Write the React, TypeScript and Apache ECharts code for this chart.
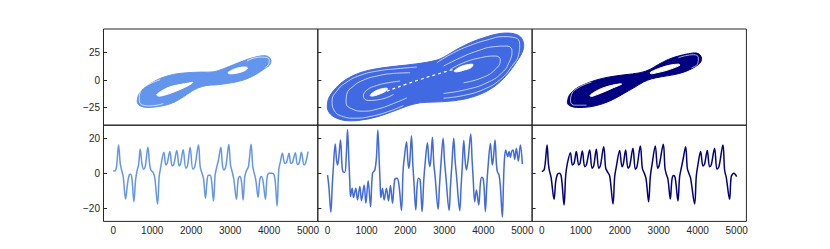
import { useEffect, useRef } from 'react';
import * as echarts from 'echarts';

const seriesColors = ['#6495ED', '#4169E1', '#000080'];

const phaseYTicks = [-25, 0, 25];
const timeYTicks = [-20, 0, 20];
const timeXTicks = [0, 1000, 2000, 3000, 4000, 5000];

// Phase portraits: outline of the attractor band and its two holes
const outer1 = [[-16.55,-17.7],[-16.25,-13.1],[-15.19,-7.9],[-13.69,-3.4],[-11.42,1.5],[-8.41,5.2],[-5.39,6.7],[-2.38,7.3],[0.64,7.6],[2.9,10.4],[4.41,12.8],[6.67,16.5],[8.93,19.8],[11.2,22.0],[12.7,22.0],[13.46,19.5],[13.61,16.5],[13.31,13.7],[11.95,9.8],[10.44,5.8],[8.18,1.2],[5.92,-1.5],[3.66,-3.1],[1.39,-4.3],[-0.87,-4.9],[-2.75,-7.0],[-4.26,-10.1],[-6.15,-15.3],[-8.03,-19.8],[-9.92,-22.6],[-12.18,-24.4],[-14.44,-25.0],[-15.95,-23.5],[-16.55,-20.7]];
const holeL1 = [[-12.18,-13.4],[-11.05,-9.8],[-9.16,-6.1],[-6.9,-4.0],[-5.01,-2.7],[-4.03,-2.1],[-5.01,-4.9],[-6.9,-8.5],[-8.78,-11.6],[-10.67,-14.0],[-11.8,-14.6]];
const holeR1 = [[3.88,6.7],[5.16,9.8],[6.67,11.6],[8.03,11.9],[8.33,10.7],[7.28,7.9],[5.54,6.1],[4.26,5.8]];
const gaps1 = [
  [[-11.42,0.3],[-14.44,-4.9],[-15.8,-10.1],[-16.1,-17.1],[-15.57,-22.3],[-13.69,-23.5],[-10.67,-21.4]],
  [[8.18,17.4],[11.2,21.0],[12.86,20.4],[13.23,16.5],[12.33,11.3]],
];

const outer2 = [[-22.04,-22.3],[-21.59,-15.3],[-20.08,-7.0],[-17.82,0.6],[-14.65,6.7],[-10.88,10.4],[-6.36,12.8],[-1.83,14.9],[2.69,18.3],[4.95,22.6],[7.22,28.1],[10.23,34.2],[13.25,38.7],[16.64,42.4],[19.66,42.7],[21.54,39.7],[22.3,32.6],[21.92,25.0],[20.79,17.4],[18.9,6.7],[16.26,-4.0],[13.25,-11.6],[9.48,-16.8],[5.71,-19.2],[1.94,-20.1],[-1.08,-20.7],[-4.1,-23.8],[-7.11,-28.4],[-10.88,-33.6],[-14.65,-36.6],[-18.04,-36.9],[-20.53,-33.6],[-21.82,-28.4]];
const holeL2 = [[-12.39,-14.0],[-11.26,-10.1],[-9.75,-7.9],[-8.47,-7.6],[-8.99,-10.4],[-10.5,-13.1],[-11.78,-14.6]];
const holeR2 = [[6.61,8.2],[7.97,12.2],[9.48,14.0],[10.84,14.3],[10.38,11.3],[8.87,9.2],[7.37,7.6]];
const gaps2 = [
  [[-1.83,11.9],[-6.36,10.4],[-10.88,8.2],[-14.65,4.3],[-17.66,-1.8],[-19.93,-10.1],[-20.98,-19.2],[-20.53,-27.5],[-18.79,-32.9],[-15.78,-34.8],[-12.01,-32.9],[-8.24,-28.7],[-4.85,-23.2]],
  [[-3.34,6.7],[-7.11,6.1],[-10.88,3.7],[-13.9,0],[-16.16,-5.5],[-17.66,-13.1],[-17.81,-20.7],[-16.53,-26.2],[-13.9,-28.4],[-10.5,-26.2],[-7.11,-21.4],[-4.09,-16.2]],
  [[-5.6,-0.9],[-8.24,-2.4],[-10.88,-4.9],[-13.14,-9.2],[-13.9,-14.6],[-12.77,-18.6],[-10.13,-17.7],[-7.11,-13.1]],
  [[2.69,15.9],[6.46,25.0],[10.23,31.7],[14.0,36.6],[17.77,39.7],[20.41,38.7],[21.39,32.6],[21.17,23.5],[19.66,12.8],[17.02,0.6],[13.25,-8.5],[8.73,-14.0],[4.2,-16.5]],
  [[4.2,12.8],[7.97,20.4],[11.74,26.5],[15.51,30.5],[18.52,31.1],[19.66,26.5],[19.13,17.4],[17.4,6.7],[14.0,-2.4],[9.48,-8.5],[4.2,-12.2]],
  [[5.71,9.8],[8.73,15.9],[12.5,20.4],[15.89,22.0],[17.02,18.3],[15.89,9.8],[12.87,2.1],[8.73,-2.4]],
];
const streak2 = [[-8.61,-10.1],[-1.08,0.6],[6.46,9.8]];

const outer3 = [[-16.2,-19.2],[-15.82,-14.0],[-14.54,-8.5],[-12.65,-4.3],[-10.01,-0.3],[-6.99,2.7],[-3.23,4.9],[0.17,6.7],[2.43,9.8],[4.32,14.3],[6.57,18.9],[8.84,22.0],[11.1,24.1],[12.98,24.7],[13.89,22.0],[14.04,18.0],[13.36,14.3],[11.85,10.4],[9.59,6.7],[7.33,4.6],[5.07,3.1],[2.8,1.2],[0.92,-1.8],[-0.97,-6.4],[-3.23,-11.6],[-5.49,-16.8],[-8.13,-21.4],[-11.15,-24.4],[-14.16,-25.0],[-15.67,-23.5],[-16.2,-21.4]];
const holeL3 = [[-11.13,-14.0],[-10.01,-10.7],[-8.5,-7.6],[-6.62,-5.2],[-4.36,-3.4],[-3.98,-3.7],[-5.87,-7.0],[-7.75,-10.4],[-9.64,-13.4],[-10.77,-14.9]];
const holeR3 = [[2.43,6.7],[3.55,9.2],[5.06,11.6],[6.95,13.7],[8.84,14.6],[9.21,13.7],[7.7,11.0],[5.82,8.5],[3.93,6.7],[2.8,5.8]];
const gaps3 = [
  [[-10.77,-1.8],[-13.78,-7.0],[-15.29,-13.1],[-15.52,-19.2],[-14.54,-22.9],[-11.9,-22.9]],
  [[8.84,20.4],[12.23,23.2],[13.36,20.4],[13.21,15.2],[11.85,11.3]],
];

// Time series
const time1 = [0,51,85,137,179,214,256,316,368,410,444,479,530,573,607,650,692,735,778,821,889,932,966,1026,1068,1137,1179,1214,1299,1350,1385,1453,1513,1556,1632,1692,1726,1795,1863,1906,1974,2043,2094,2188,2231,2273,2316,2367,2410,2444,2487,2521,2573,2615,2650,2701,2761,2803,2838,2889,2966,3009,3051,3094,3162,3205,3248,3291,3333,3376,3419,3470,3538,3581,3615,3658,3718,3761,3803,3846,3906,3949,4000,4077,4128,4162,4205,4248,4291,4342,4402,4445,4513,4556,4598,4675,4726,4769,4829,4897,4940,5000];
const value1 = [1.3,1.5,3.8,16.2,5.7,1.9,-1.9,-14.7,-5.7,-1.0,-0.6,-2.9,-16.2,-3.8,1.0,4.8,13.9,5.7,2.3,3.8,14.9,5.7,1.9,0.4,-2.9,-17.7,-1.9,2.9,12.0,4.8,5.7,12.4,4.2,5.3,13.0,4.2,5.3,13.5,2.9,4.2,14.7,2.3,3.8,16.2,3.8,0.4,-2.9,-14.3,-3.8,-1.1,-1.1,-3.8,-15.8,-1.0,2.9,7.6,14.9,4.8,1.9,3.8,16.4,4.8,1.0,-3.4,-14.9,-3.8,-1.9,-4.8,-15.2,-1.9,1.5,3.8,16.6,3.8,0.4,-3.8,-13.7,-3.8,-1.9,-4.8,-14.9,-2.3,0,0,-1.0,-5.7,-18.7,1.9,6.7,11.4,5.7,6.1,11.4,5.7,6.1,11.8,5.1,5.7,12.0,4.8,6.1,12.4];

const time2 = [0,34,85,120,145,197,231,256,282,333,368,393,444,479,513,547,573,590,632,667,726,769,829,872,940,983,1043,1103,1154,1214,1256,1291,1325,1350,1368,1410,1453,1513,1564,1615,1667,1726,1786,1838,1897,1940,1974,2026,2060,2085,2111,2154,2188,2214,2265,2299,2333,2376,2427,2470,2504,2564,2598,2624,2650,2692,2727,2761,2838,2872,2906,2966,3000,3034,3120,3154,3188,3239,3273,3308,3393,3427,3453,3496,3530,3564,3607,3675,3710,3735,3778,3821,3881,3923,3957,3991,4017,4051,4085,4120,4179,4214,4231,4256,4299,4333,4359,4402,4436,4487,4513,4539,4573,4624,4658,4692,4726,4761,4803,4846,4897,4949,5000];
const value2 = [-1.0,-7.6,-22.3,-7.6,1.9,16.8,7.6,4.8,7.6,19.0,5.7,1.0,0.6,9.5,25.1,7.6,-5.7,-13.3,-8.6,-13.9,-8.6,-15.2,-7.6,-15.6,-6.7,-17.1,-4.2,-19.1,0,1.9,9.5,24.8,7.6,-5.7,-13.9,-8.6,-15.2,-8.6,-15.8,-7.0,-17.1,-3.4,-2.9,-7.6,-21.3,1.9,9.5,18.1,7.6,2.9,6.7,21.5,5.7,-3.8,-21.0,-7.6,-2.9,-3.8,-21.9,-3.8,5.7,17.5,7.6,3.8,7.6,20.6,5.7,-1.9,-20.6,-7.6,3.8,20.0,7.6,-1.0,-21.3,-7.6,3.8,20.0,7.6,-1.0,-21.3,-7.6,1.9,18.7,7.6,1.9,7.6,22.5,7.6,-1.9,-16.2,-9.5,-18.1,-5.7,-2.3,-2.9,-7.6,-21.9,-7.6,3.8,17.1,7.6,4.8,8.6,19.0,5.7,1.0,-1.0,-7.6,-25.1,-7.6,7.6,13.3,9.5,12.4,9.0,12.4,13.3,8.0,14.3,7.0,16.2,5.3];

const time3 = [0,57,91,134,168,194,237,314,356,399,450,502,570,613,656,733,784,827,886,946,980,1040,1100,1143,1228,1288,1331,1399,1459,1502,1587,1639,1681,1741,1827,1869,1912,1997,2057,2091,2151,2211,2254,2339,2399,2442,2528,2579,2622,2673,2741,2784,2827,2912,2972,3015,3117,3160,3194,3237,3297,3340,3382,3425,3493,3536,3579,3630,3690,3733,3767,3818,3921,3963,4006,4075,4135,4177,4246,4305,4348,4434,4494,4545,4648,4690,4733,4818,4861,4929,5000];
const value3 = [1.0,1.9,6.7,16.2,5.7,1.5,-2.3,-14.9,-4.8,-0.6,0,-2.3,-18.1,-1.0,5.7,11.8,4.8,5.7,12.4,4.8,5.7,12.8,3.8,4.8,13.3,2.9,4.2,13.7,2.9,4.2,15.2,2.9,1.0,-1.5,-17.5,-1.9,3.8,13.0,3.8,5.3,13.3,2.9,4.2,14.3,2.3,3.8,15.6,2.9,0.4,-2.9,-16.2,-1.9,4.8,15.6,2.9,4.8,16.6,2.9,-0.4,-3.4,-14.7,-3.4,-1.3,-2.9,-15.8,-1.9,2.9,8.6,15.2,2.9,0.4,-2.9,-17.5,-1.9,4.8,12.4,4.2,5.3,13.0,3.8,4.8,14.3,2.3,3.8,16.2,1.9,-2.3,-14.9,-1.9,0,-1.9];

const phaseData = [
  { outer: outer1, holes: [holeL1, holeR1], gaps: gaps1, streaks: [] as number[][][] },
  { outer: outer2, holes: [holeL2, holeR2], gaps: gaps2, streaks: [streak2] },
  { outer: outer3, holes: [holeL3, holeR3], gaps: gaps3, streaks: [] as number[][][] },
];
const timeData = [
  { t: time1, v: value1 },
  { t: time2, v: value2 },
  { t: time3, v: value3 },
];

const colLefts = [103.5, 317.8, 532.1];
const colWidth = 214.3;
const rowTops = [29, 125.2];
const rowHeight = 96.2;
const textColor = '#262626';
const font = '"Liberation Sans", Arial, sans-serif';
const fmt = (v: number) => (v < 0 ? '\u2212' + Math.abs(v) : String(v));

export default function App() {
  const ref = useRef<HTMLDivElement>(null);
  useEffect(() => {
    if (!ref.current) return;
    const chart = echarts.init(ref.current, undefined, { renderer: 'svg' });
    const grid: any[] = [];
    const xAxis: any[] = [];
    const yAxis: any[] = [];
    const series: any[] = [];
    for (let r = 0; r < 2; r++) {
      for (let c = 0; c < 3; c++) {
        const gi = r * 3 + c;
        grid.push({
          left: colLefts[c], top: rowTops[r], width: colWidth, height: rowHeight,
          show: true, borderColor: textColor, borderWidth: 1, backgroundColor: 'transparent',
        });
        const common = { gridIndex: gi, splitLine: { show: false } };
        if (r === 0) {
          xAxis.push({
            ...common, type: 'value', position: 'bottom', min: -24.2, max: 24.2,
            axisLine: { show: false, onZero: false }, axisTick: { show: false }, axisLabel: { show: false },
          });
          yAxis.push({
            ...common, type: 'value', position: 'left', min: -41.2, max: 46.7,
            axisLine: { show: false, onZero: false },
            axisTick: { show: true, inside: true, length: 3.5, customValues: phaseYTicks, lineStyle: { color: textColor, width: 1 } },
            axisLabel: { show: c === 0, customValues: phaseYTicks, formatter: fmt, margin: 3.5, fontSize: 10, color: textColor, fontFamily: font },
          });
        } else {
          xAxis.push({
            ...common, type: 'value', position: 'bottom', min: -250, max: 5250,
            axisLine: { show: false, onZero: false }, axisTick: { show: false },
            axisLabel: { show: true, customValues: timeXTicks, formatter: fmt, margin: 4, fontSize: 10, color: textColor, fontFamily: font },
          });
          yAxis.push({
            ...common, type: 'value', position: 'left', min: -27.5, max: 27.5,
            axisLine: { show: false, onZero: false },
            axisTick: { show: true, inside: true, length: 3.5, customValues: timeYTicks, lineStyle: { color: textColor, width: 1 } },
            axisLabel: { show: c === 0, customValues: timeYTicks, formatter: fmt, margin: 3.5, fontSize: 10, color: textColor, fontFamily: font },
          });
        }
      }
    }
    phaseData.forEach((p, c) => {
      const color = seriesColors[c];
      const polys = [{ pts: p.outer, fill: color }, ...p.holes.map((h) => ({ pts: h, fill: '#ffffff' }))];
      polys.forEach((poly, k) => {
        series.push({
          type: 'custom', xAxisIndex: c, yAxisIndex: c, z: 2 + k,
          data: poly.pts,
          renderItem: (params: any, api: any) => {
            if (params.dataIndex !== 0) return null;
            const pts = poly.pts.map((q) => api.coord(q));
            return {
              type: 'polygon',
              shape: { points: pts, smooth: 0.35 },
              style: { fill: poly.fill, stroke: poly.fill, lineWidth: 1 },
            };
          },
        });
      });
      p.gaps.forEach((g) => {
        series.push({
          type: 'line', xAxisIndex: c, yAxisIndex: c, z: 6, data: g,
          showSymbol: false, symbol: 'none', smooth: 0.5,
          lineStyle: { color: '#ffffff', width: 0.8, opacity: 0.85 },
        });
      });
      p.streaks.forEach((s) => {
        series.push({
          type: 'line', xAxisIndex: c, yAxisIndex: c, z: 6, data: s,
          showSymbol: false, symbol: 'none', smooth: 0.5,
          lineStyle: { color: '#ffffff', width: 1.2, type: [3, 3] },
        });
      });
    });
    timeData.forEach((d, c) => {
      series.push({
        type: 'line', xAxisIndex: 3 + c, yAxisIndex: 3 + c,
        data: d.t.map((t, i) => [t, d.v[i]]),
        showSymbol: false, symbol: 'none', smooth: 0.35,
        lineStyle: { color: seriesColors[c], width: 1.5 },
      });
    });
    chart.setOption({ animation: false, grid, xAxis, yAxis, series });
    return () => chart.dispose();
  }, []);
  return <div ref={ref} style={{ position: 'absolute', left: 0, top: 0, width: 830, height: 249 }} />;
}
